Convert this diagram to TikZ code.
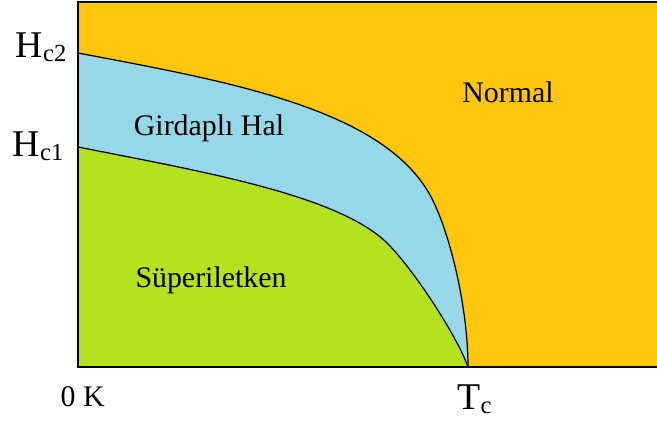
\documentclass[tikz,border=0pt]{standalone}
\usepackage{fontspec}
\setmainfont{Liberation Serif}
\usepackage{tikz}
\usetikzlibrary{positioning}
\definecolor{normalc}{RGB}{255,198,12}
\definecolor{vortexc}{RGB}{150,215,232}
\definecolor{superc}{RGB}{180,226,30}

\begin{document}
\begin{tikzpicture}[x=0.02cm,y=0.02cm,line width=0.7pt,
 lab/.style={font=\rmfamily\fontsize{17}{17}\selectfont,inner sep=0pt},
 ax/.style={font=\rmfamily\fontsize{21.5}{22}\selectfont,inner sep=0pt}]
\useasboundingbox (-78,-54) rectangle (579,367);
% phases
\fill[normalc] (0,0) rectangle (579,365);
\filldraw[fill=vortexc] (0,314) .. controls (147,286) and (303.4,259.4) .. (352,172)
 .. controls (371.4,137) and (390,60) .. (390,0) -- (0,0) -- cycle;
\filldraw[fill=superc] (0,220) .. controls (117.7,196.5) and (259,173) .. (309,124)
 .. controls (334,99.5) and (378.2,33) .. (390,0) -- (0,0) -- cycle;
% frame
\draw (579,365) -- (0,365) -- (0,0) -- (579,0);
% labels
\node[lab](normal) at (430,275){Normal};
\node[lab](vortex) at (131,239){Girdaplı Hal};
\node[lab](super) at (133,87){Süperiletken};
\node[ax,anchor=base east](hc2) at (-11,309){H\lower2pt\hbox{\fontsize{14}{14}\selectfont c2}};
\node[ax,anchor=base east](hc1) at (-14,210){H\lower2pt\hbox{\fontsize{14}{14}\selectfont c1}};
\node[lab,anchor=base west](zero) at (-18,-40){0 K};
\node[ax,anchor=base west](tc) at (379,-43){T\lower2pt\hbox{\fontsize{14}{14}\selectfont c}};
\end{tikzpicture}
\end{document}
